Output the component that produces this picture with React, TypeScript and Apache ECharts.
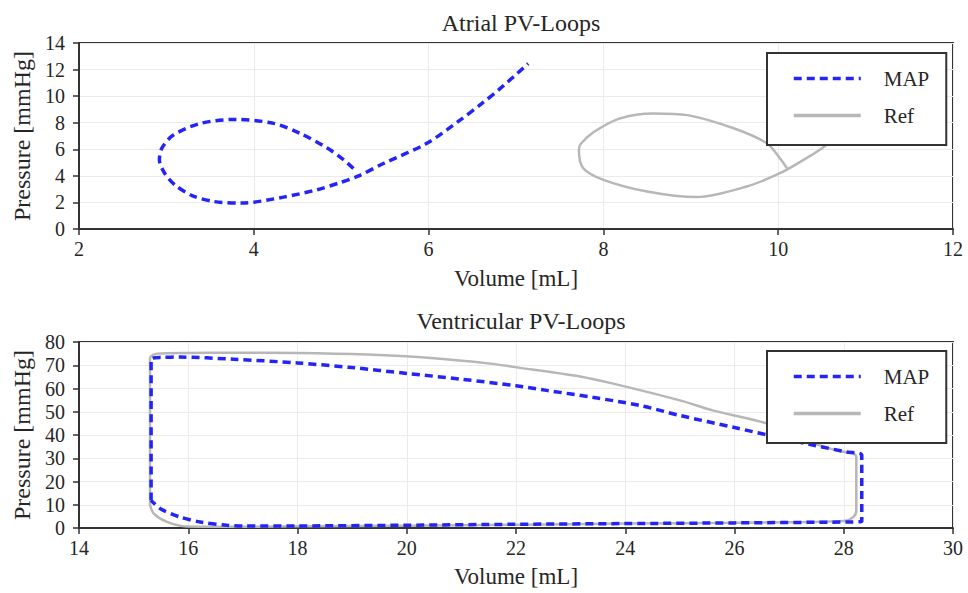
import React, { useEffect, useRef } from "react";
import * as echarts from "echarts";

const seriesNames = ["MAP", "Ref"];

const atrialTitle = "Atrial PV-Loops";
const ventricularTitle = "Ventricular PV-Loops";
const xName = "Volume [mL]";
const yName = "Pressure [mmHg]";

// Atrial loops: [volume mL, pressure mmHg]
const atrialMAP: number[][] = [
  [5.14, 4.55], [5.03, 5.2], [4.84, 6.1], [4.53, 7.2], [4.23, 7.95], [3.79, 8.25],
  [3.39, 7.95], [3.08, 7.07], [2.95, 6.1], [2.92, 5.2], [2.98, 4.2], [3.1, 3.3],
  [3.3, 2.5], [3.54, 2.07], [3.86, 1.95], [4.34, 2.4], [4.72, 2.95], [4.99, 3.5],
  [5.2, 4.0], [5.49, 4.95], [5.98, 6.45], [6.36, 8.2], [6.61, 9.45], [6.82, 10.58],
  [7.14, 12.45],
];
const atrialRef: number[][] = [
  [10.1, 4.57], [10.02, 5.33], [9.87, 6.45], [9.49, 7.58], [8.96, 8.57], [8.57, 8.7],
  [8.19, 8.33], [7.89, 7.3], [7.74, 6.4], [7.72, 5.95], [7.77, 4.57], [8.0, 3.7],
  [8.5, 2.82], [9.07, 2.4], [9.64, 3.2], [10.02, 4.2], [10.29, 5.2], [10.5, 6.08],
  [10.8, 7.6], [11.05, 9.2],
];

// Ventricular loops
const ventMAP: number[][] = [
  [15.32, 11.9], [15.32, 72.5], [15.5, 73.4], [15.85, 73.5], [16.83, 72.6], [18.0, 71.0],
  [19.0, 69.0], [20.0, 66.5], [21.0, 64.0], [22.0, 61.2], [22.56, 59.2], [23.4, 56.2],
  [24.27, 52.7], [25.0, 48.4], [26.0, 43.2], [26.8, 39.0], [27.45, 35.6], [28.05, 32.7],
  [28.33, 31.3], [28.33, 2.8], [28.1, 2.6], [26.0, 2.2], [24.0, 1.9], [22.0, 1.6],
  [20.0, 1.2], [18.0, 0.9], [17.0, 0.9], [16.71, 1.2], [16.22, 2.6], [15.85, 4.7],
  [15.49, 8.3], [15.32, 11.9],
];
const ventRef: number[][] = [
  [15.3, 10.0], [15.3, 73.0], [15.43, 75.0], [16.0, 75.3], [16.83, 75.4], [18.0, 75.3],
  [19.27, 74.6], [20.5, 73.0], [21.53, 70.7], [21.95, 69.3], [23.17, 65.2], [23.78, 62.1],
  [25.0, 54.9], [25.6, 50.6], [26.56, 45.2], [27.0, 41.0], [27.45, 36.4], [27.9, 33.2],
  [28.17, 32.0], [28.23, 30.5], [28.23, 7.6], [28.18, 4.8], [28.0, 3.0], [26.0, 2.3],
  [24.0, 1.9], [22.0, 1.4], [20.0, 1.0], [18.0, 0.7], [16.5, 0.5], [15.98, 0.6],
  [15.61, 2.6], [15.37, 6.2], [15.3, 10.0],
];

const atrialX = { min: 2, max: 12, interval: 2 };
const atrialY = { min: 0, max: 14, interval: 2 };
const ventX = { min: 14, max: 30, interval: 2 };
const ventY = { min: 0, max: 80, interval: 10 };

const FONT = "Liberation Serif";
const TEXT = "#262626";
const BLUE = "#2424f5";
const GRAY = "#b7b7b7";

export default function App() {
  const ref = useRef<HTMLDivElement>(null);
  useEffect(() => {
    document.body.style.margin = "0";
    const chart = echarts.init(ref.current!, null, { renderer: "svg" });
    const xAxisBase = (gridIndex: number, r: any, nameGap: number) => ({
      type: "value",
      gridIndex,
      min: r.min,
      max: r.max,
      interval: r.interval,
      name: xName,
      nameLocation: "middle",
      nameGap,
      nameTextStyle: { fontFamily: FONT, fontSize: 23, color: TEXT },
      axisLine: { show: true, lineStyle: { color: "#333", width: 2 } },
      axisTick: { show: true, length: 6, lineStyle: { color: "#333", width: 1.5 } },
      axisLabel: { fontFamily: FONT, fontSize: 20, color: TEXT, margin: 10 },
      splitLine: { show: true, lineStyle: { color: "#ebebeb", width: 1 } },
    });
    const yAxisBase = (gridIndex: number, r: any) => ({
      type: "value",
      gridIndex,
      min: r.min,
      max: r.max,
      interval: r.interval,
      name: yName,
      nameLocation: "middle",
      nameGap: 43,
      nameRotate: 90,
      nameTextStyle: { fontFamily: FONT, fontSize: 24, color: TEXT },
      axisLine: { show: true, lineStyle: { color: "#333", width: 2 } },
      axisTick: { show: true, length: 6, lineStyle: { color: "#333", width: 1.5 } },
      axisLabel: { fontFamily: FONT, fontSize: 20, color: TEXT, margin: 14 },
      splitLine: { show: true, lineStyle: { color: "#ebebeb", width: 1 } },
    });
    const legendBase = (top: number) => ({
      orient: "vertical",
      left: 767,
      top,
      data: seriesNames,
      itemWidth: 67,
      itemHeight: 14,
      itemGap: 16,
      padding: [15, 17, 19, 25],
      backgroundColor: "#fff",
      borderColor: "#333",
      borderWidth: 2,
      borderRadius: 0,
      selectedMode: false,
      itemStyle: { opacity: 0, borderWidth: 0 },
      lineStyle: { width: 3.5 },
      textStyle: { fontFamily: FONT, fontSize: 21, color: TEXT, padding: [0, 0, 0, 18] },
    });
    const mapLine = (name: string, xi: number, data: number[][]) => ({
      name,
      type: "line",
      xAxisIndex: xi,
      yAxisIndex: xi,
      data,
      symbol: "none",
      showSymbol: false,
      smooth: 0.3,
      z: 3,
      lineStyle: { color: BLUE, width: 3.5, type: [8, 5] },
      itemStyle: { color: BLUE },
    });
    const refLine = (name: string, xi: number, data: number[][]) => ({
      name,
      type: "line",
      xAxisIndex: xi,
      yAxisIndex: xi,
      data,
      symbol: "none",
      showSymbol: false,
      smooth: 0.3,
      z: 2,
      lineStyle: { color: GRAY, width: 2.5, type: "solid" },
      itemStyle: { color: GRAY },
    });
    chart.setOption({
      animation: false,
      backgroundColor: "#fff",
      title: [
        {
          text: atrialTitle,
          left: 516,
          top: 6,
          textAlign: "center",
          textStyle: { fontFamily: FONT, fontSize: 24, fontWeight: "normal", color: TEXT },
        },
        {
          text: ventricularTitle,
          left: 516,
          top: 304,
          textAlign: "center",
          textStyle: { fontFamily: FONT, fontSize: 24, fontWeight: "normal", color: TEXT },
        },
      ],
      grid: [
        { left: 79, top: 43, width: 874, height: 186, show: true, borderColor: "#333", borderWidth: 2, backgroundColor: "transparent" },
        { left: 79, top: 342, width: 874, height: 186, show: true, borderColor: "#333", borderWidth: 2, backgroundColor: "transparent" },
      ],
      xAxis: [xAxisBase(0, atrialX, 38), xAxisBase(1, ventX, 37)],
      yAxis: [yAxisBase(0, atrialY), yAxisBase(1, ventY)],
      legend: [legendBase(53), legendBase(351)],
      series: [
        refLine("Ref", 0, atrialRef),
        mapLine("MAP", 0, atrialMAP),
        refLine("Ref", 1, ventRef),
        mapLine("MAP", 1, ventMAP),
      ],
    });
    return () => chart.dispose();
  }, []);
  return <div ref={ref} style={{ width: 968, height: 593 }} />;
}
